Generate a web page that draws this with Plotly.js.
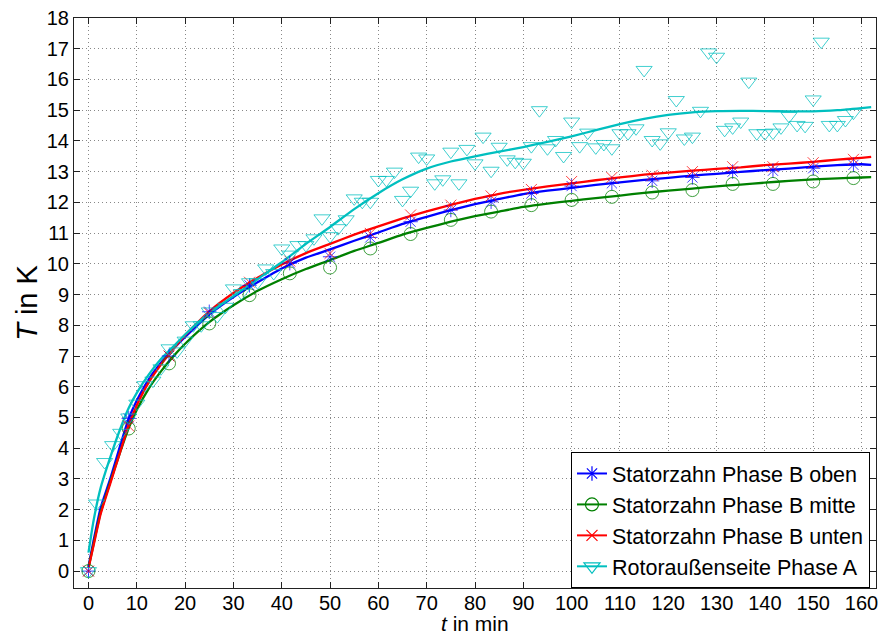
<!DOCTYPE html>
<html><head><meta charset="utf-8">
<script src="https://cdn.plot.ly/plotly-3.0.1.min.js"></script>
<style>html,body{margin:0;padding:0;background:#fff;}#chart{width:881px;height:637px;}</style>
</head><body><div id="chart"></div>
<script>
// measurement times (min) for stator tooth sensors
const tStator = [0, 8.33, 16.67, 25, 33.33, 41.67, 50, 58.33, 66.67, 75, 83.33, 91.67, 100, 108.33, 116.67, 125, 133.33, 141.67, 150, 158.33];
const obenVals  = [0, 4.97, 7.0, 8.44, 9.3, 10.02, 10.23, 10.86, 11.37, 11.75, 12.02, 12.29, 12.53, 12.62, 12.7, 12.81, 13.0, 13.03, 13.11, 13.22];
const mitteVals = [0, 4.64, 6.76, 8.06, 8.98, 9.69, 9.88, 10.5, 10.97, 11.43, 11.7, 11.91, 12.08, 12.18, 12.32, 12.4, 12.6, 12.6, 12.68, 12.79];
const untenVals = [0, 4.72, 7.0, 8.4, 9.4, 10.09, 10.34, 10.99, 11.59, 11.91, 12.21, 12.42, 12.68, 12.81, 12.88, 13.0, 13.16, 13.16, 13.29, 13.4];

// rotor measurement times (min)
const tRotor = [0, 1.67, 3.33, 5, 6.67, 8.33, 10, 11.67, 13.33, 15, 16.67, 18.33, 20, 21.67, 23.33, 25, 26.67, 28.33, 30, 31.67, 33.33, 35, 36.67, 38.33, 40, 41.67, 43.33, 45, 46.67, 48.33, 50, 51.67, 53.33, 55, 56.67, 58.33, 60, 61.67, 63.33, 65, 66.67, 68.33, 70, 71.67, 73.33, 75, 76.67, 78.33, 80, 81.67, 83.33, 85, 86.67, 88.33, 90, 91.67, 93.33, 95, 96.67, 98.33, 100, 101.67, 103.33, 105, 106.67, 108.33, 110, 111.67, 113.33, 115, 116.67, 118.33, 120, 121.67, 123.33, 125, 126.67, 128.33, 130, 131.67, 133.33, 135, 136.67, 138.33, 140, 141.67, 143.33, 145, 146.67, 148.33, 150, 151.67, 153.33, 155, 156.67, 158.33];
const rotorVals = [0, 2.2, 3.55, 4.1, 4.5, 5.0, 5.45, 6.05, 6.2, 6.6, 7.25, 7.15, 7.5, 8.0, 8.0, 8.45, 8.3, 8.6, 9.2, 9.05, 9.4, 9.4, 9.85, 9.7, 10.5, 10.3, 10.61, 10.61, 10.83, 11.48, 10.9, 11.16, 11.45, 12.13, 12.02, 12.02, 12.73, 12.73, 13.0, 12.08, 12.38, 13.49, 13.43, 12.62, 12.75, 13.65, 12.62, 13.74, 13.27, 14.14, 13.03, 13.81, 13.4, 13.32, 13.29, 13.83, 15.0, 13.76, 14.03, 13.51, 14.63, 13.83, 14.27, 13.79, 13.9, 13.76, 14.25, 14.25, 14.41, 16.31, 14.03, 13.92, 14.28, 15.33, 14.08, 14.14, 14.98, 16.88, 16.74, 14.36, 14.44, 14.63, 15.93, 14.25, 14.25, 14.27, 14.44, 14.81, 14.52, 14.49, 15.35, 17.23, 14.52, 14.52, 14.68, 14.92];

// fitted curves
const tFit = [0, 1, 2.5, 4.5, 6.5, 8.3, 10, 12.5, 15, 17.5, 20, 25, 30, 35, 40, 45, 50, 55, 60, 65, 70, 75, 80, 85, 90, 95, 100, 105, 110, 115, 120, 125, 130, 135, 140, 145, 150, 155, 160, 162];
const obenFit  = [0.15, 0.95, 2.05, 3.0, 4.05, 4.95, 5.55, 6.25, 6.78, 7.22, 7.62, 8.35, 8.92, 9.4, 9.85, 10.2, 10.47, 10.75, 11.02, 11.3, 11.53, 11.75, 11.94, 12.11, 12.27, 12.38, 12.47, 12.57, 12.65, 12.73, 12.8, 12.87, 12.93, 12.99, 13.05, 13.1, 13.16, 13.21, 13.24, 13.22];
const mitteFit = [0.1, 0.85, 1.9, 2.9, 3.85, 4.65, 5.25, 5.95, 6.5, 6.98, 7.4, 8.1, 8.65, 9.12, 9.5, 9.83, 10.12, 10.42, 10.68, 10.95, 11.17, 11.37, 11.55, 11.7, 11.85, 11.96, 12.05, 12.14, 12.22, 12.31, 12.38, 12.45, 12.52, 12.58, 12.64, 12.7, 12.75, 12.78, 12.81, 12.82];
const untenFit = [0.1, 0.8, 1.85, 2.85, 3.85, 4.75, 5.4, 6.15, 6.72, 7.22, 7.68, 8.45, 9.05, 9.55, 9.98, 10.35, 10.65, 10.95, 11.22, 11.48, 11.71, 11.92, 12.11, 12.28, 12.41, 12.52, 12.62, 12.72, 12.81, 12.9, 12.97, 13.03, 13.09, 13.14, 13.21, 13.26, 13.32, 13.39, 13.45, 13.48];
const rotorFit = [0.6, 1.6, 2.7, 3.7, 4.6, 5.3, 5.8, 6.4, 6.9, 7.3, 7.7, 8.4, 8.95, 9.5, 10.05, 10.65, 11.2, 11.78, 12.3, 12.75, 13.1, 13.33, 13.5, 13.65, 13.8, 13.97, 14.15, 14.35, 14.55, 14.72, 14.85, 14.93, 14.97, 14.98, 14.97, 14.96, 14.96, 15.0, 15.07, 15.1];

const xTicks = [0, 10, 20, 30, 40, 50, 60, 70, 80, 90, 100, 110, 120, 130, 140, 150, 160];
const yTicks = [0, 1, 2, 3, 4, 5, 6, 7, 8, 9, 10, 11, 12, 13, 14, 15, 16, 17, 18];

const names = ['Statorzahn Phase B oben', 'Statorzahn Phase B mitte', 'Statorzahn Phase B unten', 'Rotoraußenseite Phase A'];
const colors = ['#0000ff', '#008000', '#ff0000', '#00bfbf'];
const symbols = ['asterisk-open', 'circle-open', 'x-thin-open', 'triangle-down-open'];
const sizes = [12, 13, 11, 14];

const series = [
  {x: tStator, y: obenVals,  fy: obenFit},
  {x: tStator, y: mitteVals, fy: mitteFit},
  {x: tStator, y: untenVals, fy: untenFit},
  {x: tRotor,  y: rotorVals, fy: rotorFit}
];

const traces = [];
series.forEach((s, i) => {
  traces.push({x: tFit, y: s.fy, mode: 'lines', showlegend: false, hoverinfo: 'skip',
    line: {color: colors[i], width: 2.3, shape: 'spline', smoothing: 0.5}});
});
series.forEach((s, i) => {
  traces.push({x: s.x, y: s.y, mode: 'markers', showlegend: false,
    marker: {symbol: symbols[i], size: sizes[i], color: colors[i], opacity: 0.75,
             line: {color: colors[i], width: 1}}});
});
// legend entries (line + marker sample)
series.forEach((s, i) => {
  traces.push({x: [null], y: [null], mode: 'lines+markers', name: names[i],
    line: {color: colors[i], width: 2},
    marker: {symbol: symbols[i], size: sizes[i], color: colors[i], line: {color: colors[i], width: 1.2}}});
});

const fontFam = '"Liberation Sans", Arial, sans-serif';
const layout = {
  width: 881, height: 637,
  margin: {l: 74, r: 5, t: 18, b: 49},
  paper_bgcolor: '#fff', plot_bgcolor: '#fff',
  font: {family: fontFam, color: '#000'},
  showlegend: true,
  legend: {x: 0.9925, xanchor: 'right', y: 0.0, yanchor: 'bottom',
    bgcolor: '#fff', bordercolor: '#000', borderwidth: 1,
    font: {family: fontFam, size: 21.5, color: '#000'}, tracegroupgap: 0},
  xaxis: {
    range: [-3, 163], tickvals: xTicks, ticktext: xTicks.map(String),
    ticks: 'inside', ticklen: 6, tickcolor: '#222', tickwidth: 1,
    showline: true, linecolor: '#222', linewidth: 1, mirror: 'ticks',
    showgrid: true, gridcolor: '#888', griddash: '1px,3px', gridwidth: 1,
    zeroline: false, ticklabelstandoff: -3,
    tickfont: {family: fontFam, size: 20, color: '#000'}
  },
  yaxis: {
    range: [-0.55, 18], tickvals: yTicks, ticktext: yTicks.map(String),
    ticks: 'inside', ticklen: 6, tickcolor: '#222', tickwidth: 1,
    showline: true, linecolor: '#222', linewidth: 1, mirror: 'ticks',
    showgrid: true, gridcolor: '#888', griddash: '1px,3px', gridwidth: 1,
    zeroline: false,
    tickfont: {family: fontFam, size: 20, color: '#000'},
    title: {text: '<i>T</i> in K', font: {family: fontFam, size: 29, color: '#000'}, standoff: 0}
  },
  annotations: [{
    text: '<i>t</i> in min', xref: 'paper', yref: 'paper', x: 0.5, y: -0.0842,
    xanchor: 'center', yanchor: 'bottom', showarrow: false, borderpad: 0,
    font: {family: fontFam, size: 21, color: '#000'}
  }]
};
Plotly.newPlot('chart', traces, layout, {displayModeBar: false, staticPlot: true});
</script></body></html>
